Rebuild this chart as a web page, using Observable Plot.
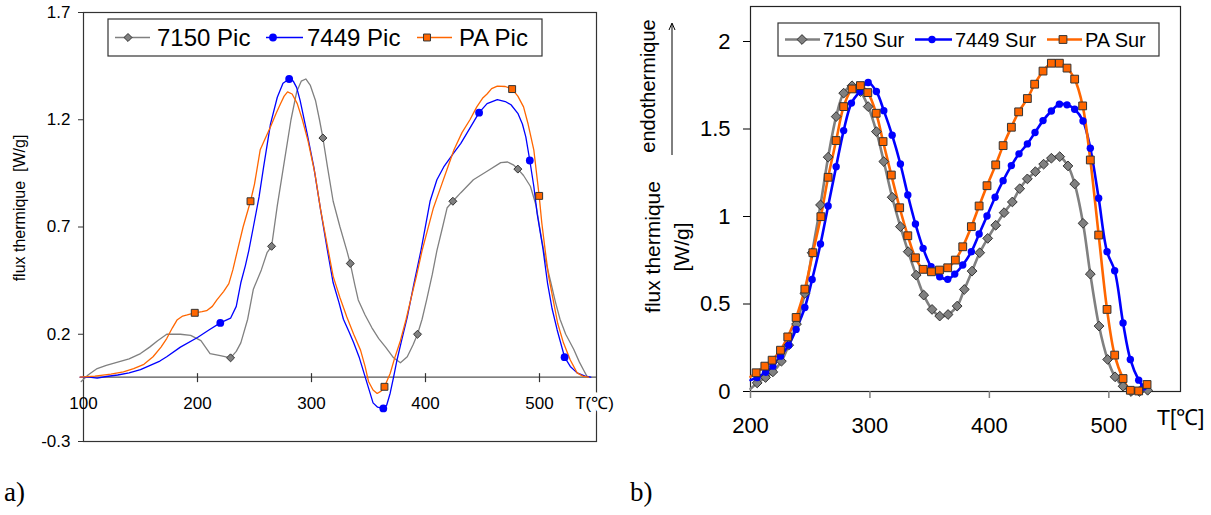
<!DOCTYPE html>
<html><head><meta charset="utf-8">
<script src="https://cdn.jsdelivr.net/npm/d3@7"></script>
<script src="https://cdn.jsdelivr.net/npm/@observablehq/plot@0.6"></script>
<style>
body{margin:0;background:#fff;font-family:Arial,"Liberation Sans",sans-serif;}
#wrap{position:relative;width:1211px;height:515px;overflow:hidden;background:#fff;}
</style></head><body><div id="wrap"></div>
<script>
// ---------- Panel a) : "Pic" ----------
const picXTicks = [100, 200, 300, 400, 500];
const picYTicks = [-0.3, 0.2, 0.7, 1.2, 1.7];

const picT7150 = [98,104,112,120,130,140,150,158,165,173,185,194,203,207,211,220,229,234,238,244,249,256,261,265,270,276,282,287,291,295,299,303.5,307,310,314,319,325,331,334,338,341,347,353,359,365,372,378,384,389,393,397,401,406,410,415,419,424,431,442,454,466,472,477,481,486,492,497,501,505,510,514,518,523,530,535,539,542];
const picV7150 = [-0.02,0.01,0.04,0.055,0.07,0.085,0.11,0.14,0.17,0.2,0.2,0.195,0.17,0.14,0.11,0.1,0.09,0.12,0.16,0.27,0.41,0.5,0.58,0.61,0.8,1.0,1.2,1.33,1.38,1.39,1.36,1.29,1.2,1.115,0.98,0.82,0.7,0.59,0.53,0.43,0.36,0.29,0.23,0.18,0.14,0.09,0.067,0.095,0.15,0.2,0.27,0.36,0.48,0.59,0.7,0.79,0.82,0.86,0.92,0.96,1.0,1.003,0.99,0.97,0.94,0.89,0.8,0.67,0.55,0.44,0.35,0.27,0.2,0.13,0.07,0.03,0.0];
const picM7150 = [229,265,310,334,393,424,481];

const picT7449 = [97,105,112,120,130,140,150,159,167,173,185,200,210,220,229,234,238,242,245,249,254,258,264,270,275,280.4,284,287,290,296,302,308,314,319,324,328,333,337,342,346,350,354,358,363,366,369,372,375,379,384,390,396,404,410,416,424,431,440,447,454,463,470,475,481,485,488,491.5,495,498,503,507,511,515.5,522,527,533,540,545];
const picV7449 = [0,0,-0.005,0.003,0.01,0.02,0.035,0.056,0.075,0.095,0.14,0.185,0.22,0.253,0.275,0.33,0.44,0.52,0.59,0.7,0.84,0.98,1.18,1.305,1.37,1.39,1.38,1.35,1.29,1.14,0.98,0.78,0.59,0.44,0.35,0.27,0.21,0.16,0.09,0.02,-0.05,-0.12,-0.14,-0.146,-0.13,-0.075,0.0,0.08,0.17,0.28,0.44,0.59,0.82,0.92,0.98,1.04,1.09,1.17,1.233,1.275,1.294,1.285,1.27,1.23,1.18,1.12,1.01,0.89,0.76,0.6,0.44,0.32,0.22,0.093,0.05,0.02,0.005,0];
const picM7449 = [220,280.4,363,447,491.5,522];

const picTPA = [97,110,124,135,144,153,161,168,173,178,182,187,191,197.6,204,208,213,217,223,227.5,231,235,240,246.5,250,255,260,264,269,273,276,279,283,287.5,292,297,303,308,314,319,325,331,337,343,347,350,354,357.6,361,364,366,369,373,378,383,387,392,397,402,407,413,419,425,432,439,445,450,454,458,463,470,476,481,486,490,495,499.7,502,505,508,512,516,521,527,533,538,543];
const picVPA = [0,0.005,0.014,0.025,0.04,0.06,0.095,0.14,0.18,0.23,0.266,0.285,0.29,0.3,0.305,0.31,0.33,0.36,0.4,0.436,0.5,0.59,0.7,0.82,0.9,1.06,1.12,1.166,1.23,1.277,1.31,1.33,1.32,1.275,1.2,1.1,0.95,0.78,0.61,0.47,0.37,0.28,0.2,0.126,0.05,-0.02,-0.06,-0.076,-0.065,-0.045,-0.02,0.017,0.09,0.17,0.27,0.36,0.47,0.59,0.69,0.79,0.88,0.97,1.06,1.14,1.2,1.26,1.3,1.32,1.345,1.357,1.355,1.343,1.31,1.26,1.18,1.06,0.845,0.72,0.59,0.47,0.36,0.25,0.16,0.08,0.02,0.005,0];
const picMPA = [197.6,246.5,364,476,499.7];

// ---------- Panel b) : "Sur" ----------
const surXTicks = [200, 300, 400, 500];
const surYTicks = [0, 0.5, 1, 1.5, 2];

const surT7150 = [200,205.6,212.6,218.7,225.9,232,238.5,245.5,251.6,258.6,265,271.7,278,285,292,298.5,305.4,311.6,318.6,325.5,332,338.7,345,352,358.4,365.4,373,379,385.5,391.9,398.6,405.3,412.3,419.2,425.4,431.8,438.5,445.4,451.9,458.9,465.8,471.4,478.4,484.5,491.8,499,505.2,511.9,518.6,525.5,532.5];
const surV7150 = [0.015,0.049,0.08,0.112,0.173,0.265,0.385,0.56,0.793,1.066,1.339,1.571,1.705,1.747,1.714,1.628,1.485,1.314,1.11,0.942,0.799,0.665,0.551,0.469,0.431,0.44,0.488,0.583,0.688,0.793,0.875,0.95,1.022,1.083,1.159,1.215,1.256,1.299,1.333,1.342,1.289,1.186,0.961,0.671,0.374,0.183,0.084,0.03,0,0,0.007];

const surT7449 = [200,205.6,212.6,218.7,225.1,232,238.2,245.5,251.6,258.6,265,271.7,278,284.5,291.5,298.5,305.4,311.6,318.6,325.5,331.7,338.1,344.5,351.2,358.4,365.1,371,377.7,384.9,391.4,398,404.8,411.5,418.4,424.8,431.8,438.2,444.9,451.9,458.6,465,471.4,478.4,484.5,491.5,498.5,504.9,511.9,518,525,529];
const surV7449 = [0.065,0.08,0.11,0.145,0.202,0.265,0.355,0.48,0.64,0.843,1.06,1.285,1.491,1.648,1.714,1.766,1.714,1.605,1.465,1.3,1.123,0.957,0.818,0.713,0.656,0.641,0.671,0.723,0.799,0.9,1.003,1.11,1.205,1.291,1.358,1.415,1.48,1.548,1.603,1.642,1.638,1.613,1.546,1.39,1.104,0.799,0.69,0.392,0.183,0.065,0.026];

const surTPA = [200,204.7,212,218.1,225.1,231.2,238.2,245.5,252.2,258.9,265,271.7,278,285,292,298.2,305.2,311,317.9,324.9,331.7,338.1,344.5,351.5,358.2,365.1,371.5,377.7,384.9,391.4,398,405.3,411.5,418.4,424.5,431.8,437.9,444.9,451.9,458.6,465,471.4,478.1,484.5,491.5,498.5,504.9,511.9,518,525,532];
const surVPA = [0.084,0.107,0.145,0.179,0.236,0.312,0.423,0.585,0.793,0.999,1.224,1.434,1.628,1.729,1.748,1.708,1.59,1.428,1.237,1.05,0.89,0.764,0.698,0.684,0.694,0.707,0.751,0.827,0.942,1.06,1.176,1.295,1.405,1.51,1.598,1.674,1.756,1.831,1.876,1.876,1.848,1.785,1.632,1.323,0.894,0.469,0.208,0.074,0.007,0.003,0.04];

// ---------- styles ----------
const gray = "#808080", blue = "#0000ff", orange = "#ff6600", edge = "#333333";
const font = "Arial, 'Liberation Sans', sans-serif";
const rows = (T, V) => T.map((t, i) => ({T: t, v: V[i]}));

const picSeries = [
  {name: "7150 Pic", T: picT7150, V: picV7150, M: picM7150, color: gray, symbol: "diamond2", fill: gray, stroke: edge, r: 3.6},
  {name: "7449 Pic", T: picT7449, V: picV7449, M: picM7449, color: blue, symbol: "circle", fill: blue, stroke: "none", r: 3.9},
  {name: "PA Pic", T: picTPA, V: picVPA, M: picMPA, color: orange, symbol: "square", fill: orange, stroke: edge, r: 3.9}
];
const surSeries = [
  {name: "7150 Sur", T: surT7150, V: surV7150, color: gray, symbol: "diamond2", fill: gray, stroke: edge, r: 4.4},
  {name: "7449 Sur", T: surT7449, V: surV7449, color: blue, symbol: "circle", fill: blue, stroke: "none", r: 3.7},
  {name: "PA Sur", T: surTPA, V: surVPA, color: orange, symbol: "square", fill: orange, stroke: edge, r: 4.4}
];

const tickSym = {draw(ctx) { ctx.moveTo(0, -4); ctx.lineTo(0, 5); }};
const wrap = document.getElementById("wrap");
function place(el, left, top) { el.style.position = "absolute"; el.style.left = left + "px"; el.style.top = top + "px"; wrap.appendChild(el); }

// ---------- left plot ----------
const left = Plot.plot({
  width: 620, height: 470,
  marginLeft: 83, marginRight: 24, marginTop: 12, marginBottom: 29,
  x: {domain: [100, 550], axis: null},
  y: {domain: [-0.3, 1.7]},
  style: {background: "transparent", fontFamily: font, overflow: "visible", color: "#000"},
  marks: [
    Plot.frame({stroke: edge, strokeWidth: 1.2}),
    Plot.axisY({ticks: picYTicks, tickFormat: d => d.toFixed(1), tickSize: 5, tickPadding: 8, fontSize: 17, label: null, stroke: edge}),
    Plot.ruleY([0], {stroke: "#555", strokeWidth: 1.2}),
    Plot.dot(picXTicks.filter(t => t > 100), {x: d => d, y: () => 0, symbol: tickSym, r: 4, fill: "none", stroke: "#333", strokeWidth: 1.2}),
    ...picSeries.map(s => Plot.line(rows(s.T, s.V), {x: "T", y: "v", stroke: s.color, strokeWidth: 1.3})),
    ...picSeries.map(s => Plot.dot(rows(s.T, s.V).filter(d => s.M.includes(d.T)), {x: "T", y: "v", symbol: s.symbol, r: s.r, fill: s.fill, stroke: s.stroke, strokeWidth: 1})),
    Plot.text(picXTicks, {x: d => d, y: () => 0, text: d => String(d), dy: 26, fontSize: 17}),
    Plot.text(["T(℃)"], {frameAnchor: "right", y: () => 0, text: d => d, textAnchor: "middle", dy: 26, dx: -2, fontSize: 17, stroke: "white", strokeWidth: 9, fill: "#000"}),
    Plot.text(["flux thermique\u00a0\u00a0[W/g]"], {frameAnchor: "left", text: d => d, textAnchor: "middle", rotate: -90, dx: -64, dy: -19, fontSize: 16})
  ]
});
place(left, 0, 0);

// ---------- right plot ----------
const right = Plot.plot({
  width: 591, height: 470,
  marginLeft: 130, marginRight: 31, marginTop: 6, marginBottom: 79,
  x: {domain: [200, 560]},
  y: {domain: [0, 2.2]},
  style: {background: "transparent", fontFamily: font, overflow: "visible", color: "#000"},
  marks: [
    Plot.frame({stroke: "#222", strokeWidth: 1.2}),
    Plot.axisY({ticks: surYTicks, tickFormat: d => String(d), tickSize: 7, tickPadding: 13, fontSize: 22, label: null, stroke: "#000"}),
    Plot.axisX({ticks: surXTicks, tickFormat: d => String(d), tickSize: 7, tickPadding: 19, fontSize: 22, label: null, stroke: gray, strokeWidth: 1.5}),
    ...surSeries.map(s => Plot.line(rows(s.T, s.V), {x: "T", y: "v", stroke: s.color, strokeWidth: 2.6, curve: "catmull-rom"})),
    ...surSeries.map(s => Plot.dot(rows(s.T, s.V).filter(d => d.T > 201), {x: "T", y: "v", symbol: s.symbol, r: s.r, fill: s.fill, stroke: s.stroke, strokeWidth: 1})),
    Plot.text(["T[℃]"], {frameAnchor: "bottom-right", text: d => d, textAnchor: "middle", dy: 33, fontSize: 22}),
    Plot.text(["flux thermique"], {frameAnchor: "left", text: d => d, textAnchor: "middle", rotate: -90, dx: -97, dy: 48, fontSize: 21}),
    Plot.text(["[W/g]"], {frameAnchor: "left", text: d => d, textAnchor: "middle", rotate: -90, dx: -68, dy: 48, fontSize: 21}),
    Plot.text(["endothermique"], {frameAnchor: "left", text: d => d, textAnchor: "middle", rotate: -90, dx: -102, dy: -113, fontSize: 20})
  ]
});
place(right, 620, 0);

// ---------- overlay: legends, arrow, panel letters ----------
const ov = d3.create("svg").attr("width", 1211).attr("height", 515).style("pointer-events", "none");
place(ov.node(), 0, 0);

function symbolPath(name, r) {
  const type = {diamond2: d3.symbolDiamond2, circle: d3.symbolCircle, square: d3.symbolSquare}[name];
  return d3.symbol(type, Math.PI * r * r)();
}
function legend(series, box, items, fontSize, lw) {
  const g = ov.append("g");
  g.append("rect").attr("x", box[0]).attr("y", box[1]).attr("width", box[2] - box[0]).attr("height", box[3] - box[1])
    .attr("fill", "#fff").attr("stroke", edge).attr("stroke-width", 1.2);
  const cy = (box[1] + box[3]) / 2;
  series.forEach((s, i) => {
    const it = items[i];
    g.append("line").attr("x1", it[0]).attr("x2", it[1]).attr("y1", cy).attr("y2", cy).attr("stroke", s.color).attr("stroke-width", lw);
    g.append("path").attr("d", symbolPath(s.symbol, s.r)).attr("transform", `translate(${it[2]},${cy})`)
      .attr("fill", s.fill).attr("stroke", s.stroke).attr("stroke-width", 1);
    g.append("text").attr("x", it[3]).attr("y", cy).attr("dy", "0.35em").attr("font-size", fontSize)
      .attr("font-family", font).attr("fill", "#000").text(s.name);
  });
}
legend(picSeries, [108, 19, 542, 56], [[115, 150, 128, 157], [266, 303, 273, 307], [417, 452, 427, 459]], 24, 1.3);
legend(surSeries, [778, 23, 1159, 56], [[785, 820, 802, 823], [915, 952, 932, 955], [1047, 1082, 1063, 1085]], 20, 2.6);

// arrow next to "endothermique"
ov.append("line").attr("x1", 672).attr("x2", 672).attr("y1", 155).attr("y2", 24).attr("stroke", "#000").attr("stroke-width", 1);
ov.append("path").attr("d", "M669,30 L672,23 L675,30").attr("fill", "none").attr("stroke", "#000").attr("stroke-width", 1);

// panel letters
ov.append("text").attr("x", 4).attr("y", 501).attr("font-family", "'Liberation Serif', 'Times New Roman', serif").attr("font-size", 27).text("a)");
ov.append("text").attr("x", 630).attr("y", 501).attr("font-family", "'Liberation Serif', 'Times New Roman', serif").attr("font-size", 27).text("b)");
</script></body></html>
